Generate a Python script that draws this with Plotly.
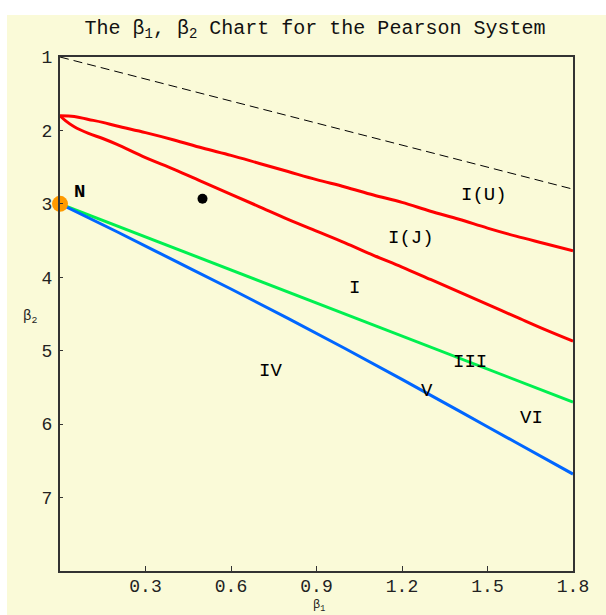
import plotly.graph_objects as go

# ---- data ----
# impossible-region boundary (dashed)
limit_b1 = [0.0, 1.8]
limit_b2 = [1.0, 2.8]

# I(U) / I(J) boundary (upper red)
iu_b1 = [0.0, 0.05, 0.1, 0.15, 0.2, 0.3, 0.4, 0.5, 0.6, 0.7, 0.8, 0.9, 1.0,
         1.1, 1.2, 1.3, 1.4, 1.5, 1.6, 1.7, 1.8]
iu_b2 = [1.8, 1.81, 1.85, 1.89, 1.94, 2.03, 2.13, 2.24, 2.34, 2.45, 2.56, 2.67, 2.77,
         2.88, 2.98, 3.1, 3.21, 3.33, 3.44, 3.54, 3.64]

# I(J) / I boundary (lower red)
ij_b1 = [0.0, 0.02, 0.05, 0.1, 0.15, 0.2, 0.3, 0.4, 0.5, 0.6, 0.7, 0.8, 0.9, 1.0,
         1.1, 1.2, 1.3, 1.4, 1.5, 1.6, 1.7, 1.8]
ij_b2 = [1.8, 1.87, 1.95, 2.04, 2.11, 2.19, 2.37, 2.53, 2.7, 2.87, 3.04, 3.21, 3.37, 3.53,
         3.7, 3.86, 4.03, 4.2, 4.37, 4.54, 4.71, 4.87]

# Type III line (green)
t3_b1 = [0.0, 0.3, 0.6, 0.9, 1.2, 1.5, 1.8]
t3_b2 = [3.0, 3.45, 3.9, 4.35, 4.8, 5.25, 5.7]

# Type V curve (blue)
t5_b1 = [0.0, 0.2, 0.4, 0.6, 0.8, 1.0, 1.2, 1.4, 1.6, 1.8]
t5_b2 = [3.0, 3.38, 3.77, 4.16, 4.56, 4.97, 5.39, 5.82, 6.25, 6.68]

# special points
normal_pt = (0.0, 3.0)
sample_pt = (0.5, 2.93)

# region labels
region_labels = ["<b>N</b>", "I(U)", "I(J)", "I", "IV", "III", "V", "VI"]
label_b1 = [0.068, 1.487, 1.232, 1.035, 0.737, 1.44, 1.288, 1.653]
label_b2 = [2.84, 2.88, 3.47, 4.14, 5.27, 5.16, 5.55, 5.92]

x_ticks = [0.3, 0.6, 0.9, 1.2, 1.5, 1.8]
y_ticks = [1, 2, 3, 4, 5, 6, 7]

# ---- figure ----
BG = "#FAFAD8"
FONT = "Liberation Mono"

fig = go.Figure()
fig.add_trace(go.Scatter(x=limit_b1, y=limit_b2, mode="lines",
                         line=dict(color="black", width=1, dash="9px,5px")))
fig.add_trace(go.Scatter(x=iu_b1, y=iu_b2, mode="lines", line_shape="spline",
                         line=dict(color="#FF0000", width=3)))
fig.add_trace(go.Scatter(x=ij_b1, y=ij_b2, mode="lines", line_shape="spline",
                         line=dict(color="#FF0000", width=3)))
fig.add_trace(go.Scatter(x=t3_b1, y=t3_b2, mode="lines",
                         line=dict(color="#00F050", width=3)))
fig.add_trace(go.Scatter(x=t5_b1, y=t5_b2, mode="lines", line_shape="spline",
                         line=dict(color="#0066FF", width=3)))
fig.add_trace(go.Scatter(x=[normal_pt[0]], y=[normal_pt[1]], mode="markers",
                         marker=dict(color="#FF9A00", size=16), cliponaxis=False))
fig.add_trace(go.Scatter(x=[sample_pt[0]], y=[sample_pt[1]], mode="markers",
                         marker=dict(color="black", size=10)))

for t, bx, by in zip(region_labels, label_b1, label_b2):
    fig.add_annotation(x=bx, y=by, xref="x", yref="y", text=t, showarrow=False,
                       font=dict(family=FONT, size=19, color="black"))

# axis titles
fig.add_annotation(x=0.504, y=-0.0856, xref="paper", yref="paper", showarrow=False,
                   yanchor="bottom", borderpad=0, text="β<sub>1</sub>",
                   font=dict(family=FONT, size=12, color="#222"))
fig.add_annotation(x=-0.076, y=0.495, xref="paper", yref="paper", showarrow=False,
                   text="β<sub>2</sub>", font=dict(family=FONT, size=14, color="#222"))

# white strips at left/top edge of the picture
fig.add_shape(type="rect", xref="paper", yref="paper", x0=-0.12, x1=-0.1033,
              y0=-0.1, y1=1.12, fillcolor="white", line=dict(width=0), layer="below")
fig.add_shape(type="rect", xref="paper", yref="paper", x0=-0.12, x1=1.07,
              y0=1.0817, y1=1.12, fillcolor="white", line=dict(width=0), layer="below")

fig.update_layout(
    width=606, height=615,
    margin=dict(l=60, r=33, t=57, b=44),
    paper_bgcolor=BG, plot_bgcolor=BG,
    showlegend=False,
    title=dict(text="The β<sub>1</sub>, β<sub>2</sub> Chart for the Pearson System",
               x=0.497, xref="paper", y=1 - 27 / 615, yref="container",
               xanchor="center", yanchor="middle",
               font=dict(family=FONT, size=20, color="#111")),
    font=dict(family=FONT, size=18, color="#222"),
)
fig.update_xaxes(range=[0, 1.8], tickvals=x_ticks, ticktext=[f"{v:.1f}" for v in x_ticks],
                 ticks="inside", ticklen=5, tickcolor="#333", showgrid=False, zeroline=False,
                 showline=True, linecolor="#333", linewidth=2, mirror=True,
                 ticklabelstandoff=-3,
                 tickfont=dict(family=FONT, size=18, color="#222"))
fig.update_yaxes(range=[8, 1], tickvals=y_ticks, ticktext=[str(v) for v in y_ticks],
                 ticks="inside", ticklen=3, tickcolor="#333", showgrid=False, zeroline=False,
                 showline=True, linecolor="#333", linewidth=2, mirror=True,
                 ticklabelstandoff=2,
                 tickfont=dict(family=FONT, size=18, color="#222"))

fig.write_html("out.html")
